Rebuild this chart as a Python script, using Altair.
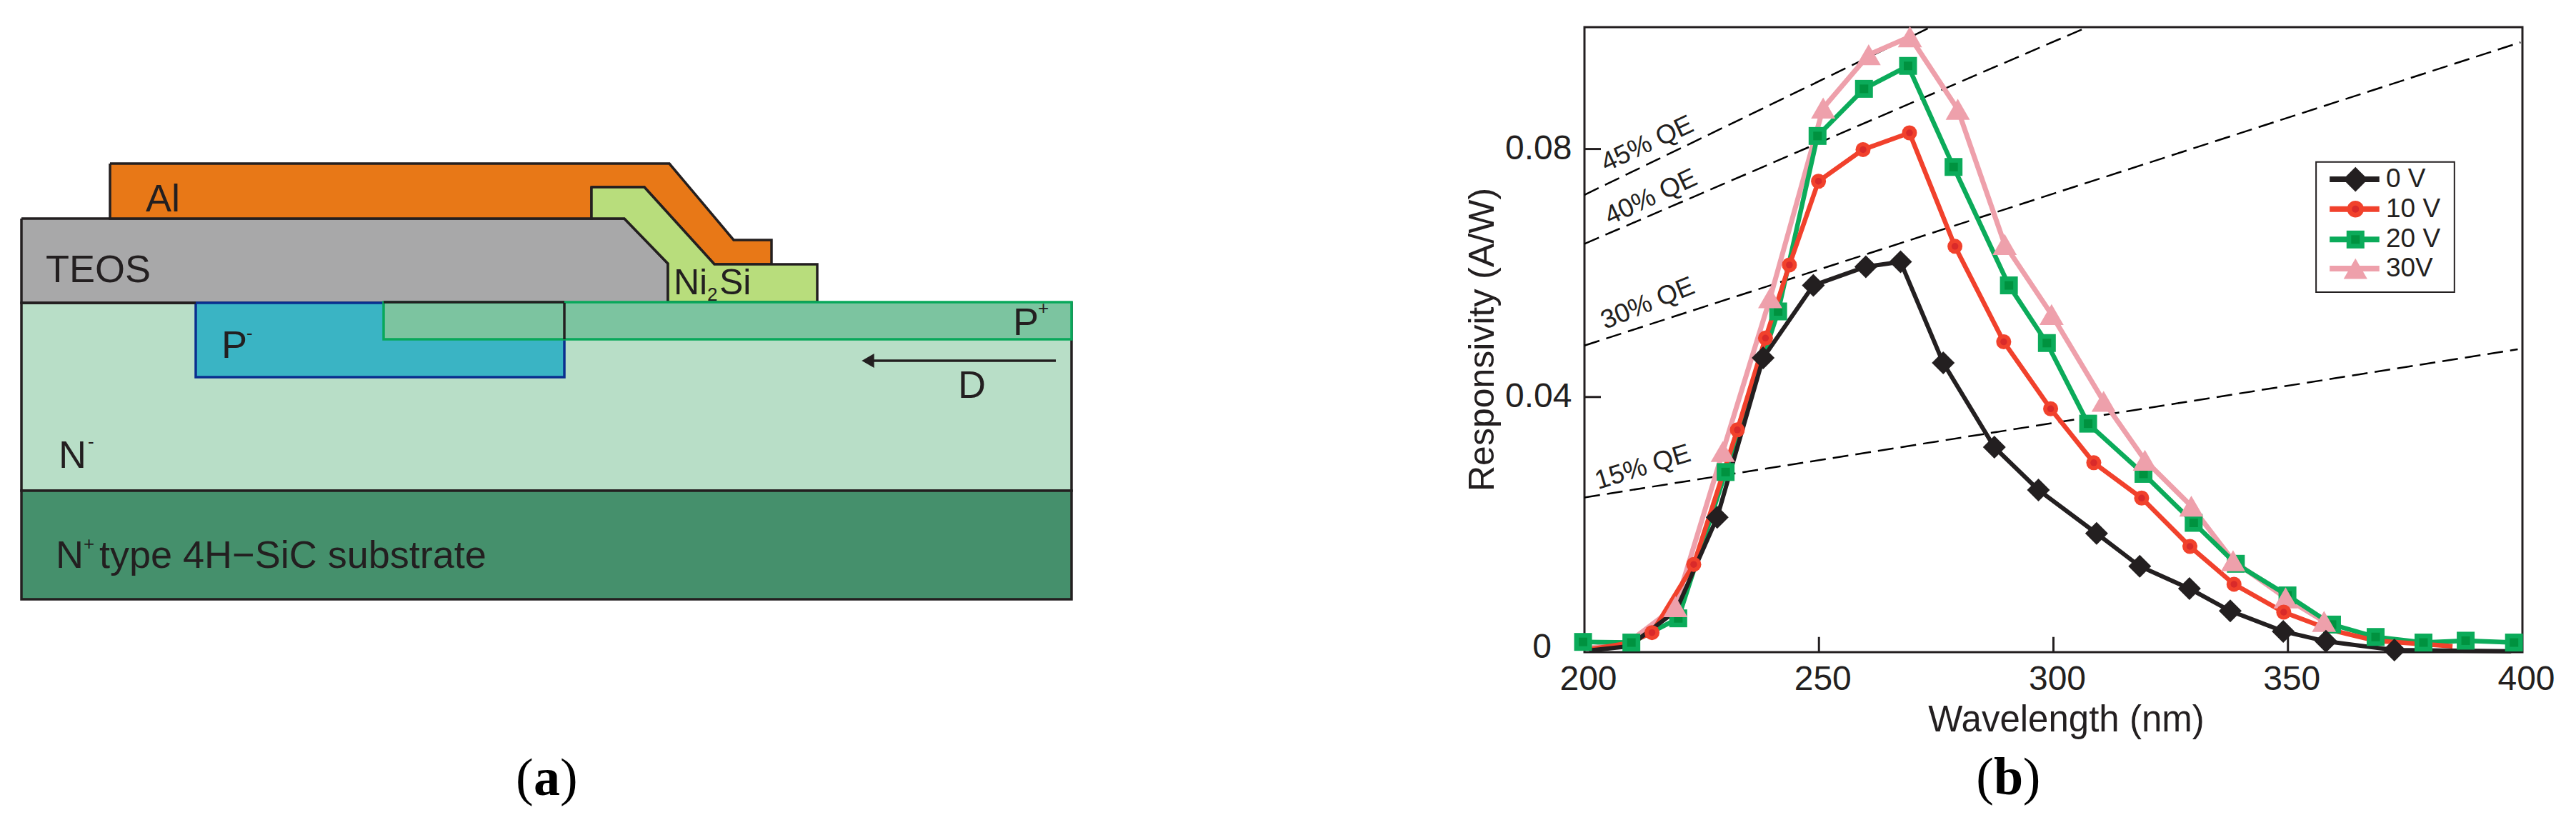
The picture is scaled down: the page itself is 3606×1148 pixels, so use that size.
import altair as alt
import pandas as pd

INK = '#231f20'
SANS = 'Liberation Sans'
SERIF = 'Liberation Serif'

# panel (a): device cross-section outlines, in diagram units
al_x = [154, 937, 1027, 1080, 1080, 1000, 902, 828, 828, 154, 154]
al_y = [229, 229, 336, 336, 370, 370, 262, 262, 306, 306, 229]
teos_x = [30, 874, 935, 935, 30, 30]
teos_y = [306, 306, 369, 424, 424, 306]
nisi_x = [828, 902, 1000, 1144, 1144, 935, 935, 874, 828, 828]
nisi_y = [262, 262, 370, 370, 423, 423, 369, 306, 306, 262]

layer_names = ['N-', 'N+', 'P-', 'P+']
layer_x1 = [30, 30, 274, 537]
layer_x2 = [1500, 1500, 790, 1500]
layer_y1 = [424, 687, 424, 423]
layer_y2 = [687, 839, 528, 475]
layer_fill = ['#b8dec7', '#45906c', '#3ab4c4', '#7cc4a0']
layer_stroke = [INK, INK, '#0a2f8f', '#09a85b']

label_text = ['Al', 'TEOS', 'Ni', '2', 'Si', 'P', '+', 'P', '-', 'D', 'N', '-', 'N', '+',
              'type 4H\u2212SiC substrate']
label_x = [204, 64, 943, 990, 1007, 1418, 1453, 310, 345, 1341, 82, 123, 78, 117, 139]
label_y = [296, 395, 412, 421, 412, 469, 440, 501, 475, 557, 655, 627, 795, 770, 795]
label_size = [54, 54, 50, 26, 50, 54, 26, 54, 26, 54, 54, 26, 54, 26, 54]

# panel (b): responsivity curves
w0 = [201, 209.5, 219.5, 228.3, 238.1, 248.8, 260, 267.4, 276.5, 287.4, 296.8, 309.2, 318.4, 329,
      337.7, 349, 358.1, 372.7, 397.6]
r0 = [-0.0009, -0.0002, 0.0055, 0.0206, 0.0463, 0.0580, 0.0610, 0.0618, 0.0455, 0.0319, 0.0250,
      0.0180, 0.0127, 0.0091, 0.0055, 0.0022, 0.0006, -0.0008, -0.0010]
w10 = [201, 209.3, 214.4, 223.3, 232.6, 238.6, 243.7, 249.9, 259.4, 269.3, 279, 289.4, 299.4, 308.6,
       318.8, 329.1, 338.5, 349.1, 359.3, 368.7, 385.1]
r10 = [-0.0007, 0.0003, 0.0020, 0.0130, 0.0347, 0.0495, 0.0613, 0.0748, 0.0799, 0.0826, 0.0643,
       0.0489, 0.0381, 0.0294, 0.0237, 0.0159, 0.0098, 0.0053, 0.0024, 0.0007, -0.0002]
w20 = [199.7, 210, 220, 230.1, 241.3, 249.7, 259.6, 269, 278.7, 290.5, 298.6, 307.4, 319.2, 329.9,
       338.9, 349.9, 359.4, 368.7, 378.9, 387.9, 398.2]
r20 = [0.0005, 0.0004, 0.0043, 0.0279, 0.0538, 0.0821, 0.0897, 0.0934, 0.0771, 0.0580, 0.0487,
       0.0357, 0.0276, 0.0197, 0.0131, 0.0080, 0.0033, 0.0013, 0.0004, 0.0007, 0.0004]
w30 = [201, 209.5, 219.4, 229.5, 239.6, 250.9, 260.6, 269.4, 279.6, 289.6, 299.6, 310.7, 319.5,
       329.4, 338.3, 349.5, 357.7]
r30 = [-0.0005, 0.0005, 0.0062, 0.0312, 0.0560, 0.0866, 0.0952, 0.0981, 0.0864, 0.0646, 0.0533,
       0.0393, 0.0298, 0.0224, 0.0136, 0.0076, 0.0038]

# quantum efficiency guide lines
qe_names = ['45% QE', '40% QE', '30% QE', '15% QE']
qe_w1 = [200, 200, 200, 200]
qe_r1 = [0.0726, 0.0647, 0.0483, 0.0238]
qe_w2 = [273.8, 307.2, 399.6, 399]
qe_r2 = [0.09965, 0.09965, 0.0972, 0.0477]
qe_label_w = [204.6, 205.4, 204.4, 202.9]
qe_label_r = [0.0763, 0.0677, 0.0509, 0.0251]
qe_label_angle = [335, 335, 338, 343]

legend_names = ['0 V', '10 V', '20 V', '30V']
legend_r = [0.0751, 0.0703, 0.0654, 0.0607]
legend_shapes = ['diamond', 'circle', 'square', 'triangle-up']
legend_sizes = [1200, 550, 625, 1100]
series_colors = [INK, '#f1412c', '#0bab5a', '#eea0ab']

# panel tags, one piece per font weight
tag_text = ['(', ')']
tag_a_x = [722, 784]
tag_a_bold_x = 747
tag_y = 1113
tag_b_w = [283.5, 293.5]
tag_b_bold_w = 287.3
tag_b_r = -0.0241

x_dia = alt.X('x:Q', scale=alt.Scale(domain=[8, 1568], nice=False), axis=None)
y_dia = alt.Y('y:Q', scale=alt.Scale(domain=[1138, 38], nice=False), axis=None)


def outline(xs, ys, fill):
    df = pd.DataFrame({'x': xs, 'y': ys, 'i': range(len(xs))})
    return alt.Chart(df).mark_line(fill=fill, stroke=INK, strokeWidth=3.5, strokeJoin='miter').encode(
        x=x_dia, y=y_dia, order='i:Q')


def edge(x1, x2, y1, y2, color):
    df = pd.DataFrame({'x': [x1], 'x2': [x2], 'y': [y1], 'y2': [y2]})
    return alt.Chart(df).mark_rule(color=color, strokeWidth=3.5).encode(x=x_dia, x2='x2:Q', y=y_dia, y2='y2:Q')


def tag_mark(df, x, y, weight):
    return alt.Chart(df).mark_text(font=SERIF, fontSize=74, fontWeight=weight, color='black', align='left',
                                   baseline='alphabetic').encode(x=x, y=y, text='t:N')


layers_df = pd.DataFrame({'name': layer_names, 'x': layer_x1, 'x2': layer_x2, 'y': layer_y1, 'y2': layer_y2,
                          'fill': layer_fill, 'stroke': layer_stroke})
rects = alt.Chart(layers_df).mark_rect(strokeWidth=3.5).encode(
    x=x_dia, x2='x2:Q', y=y_dia, y2='y2:Q',
    fill=alt.Fill('fill:N', scale=None), stroke=alt.Stroke('stroke:N', scale=None))
sub_rects = rects.transform_filter("datum.name == 'N-' || datum.name == 'N+'")
p_rects = rects.transform_filter("datum.name == 'P-' || datum.name == 'P+'")

labels_df = pd.DataFrame({'t': label_text, 'x': label_x, 'y': label_y, 's': label_size})
labels = alt.Chart(labels_df).mark_text(font=SANS, color=INK, align='left', baseline='alphabetic').encode(
    x=x_dia, y=y_dia, text='t:N', size=alt.Size('s:Q', scale=None, legend=None))

arrow_line = edge(1215, 1478, 505, 505, INK)
arrow_head = alt.Chart(pd.DataFrame({'x': [1215], 'y': [505]})).mark_point(
    shape='triangle-left', size=400, filled=True, color=INK, opacity=1).encode(x=x_dia, y=y_dia)

tag_a_paren = pd.DataFrame({'t': tag_text, 'x': tag_a_x, 'y': [tag_y, tag_y]})
tag_a_letter = pd.DataFrame({'t': ['a'], 'x': [tag_a_bold_x], 'y': [tag_y]})

left = alt.layer(
    sub_rects,
    outline(teos_x, teos_y, '#a8a8a9'),
    outline(al_x, al_y, '#e87817'),
    outline(nisi_x, nisi_y, '#b8dd7c'),
    p_rects,
    edge(537, 790, 423, 423, INK),
    edge(790, 790, 424, 475, INK),
    edge(30, 274, 424, 424, INK),
    arrow_line, arrow_head, labels,
    tag_mark(tag_a_paren, x_dia, y_dia, 'normal'),
    tag_mark(tag_a_letter, x_dia, y_dia, 'bold'),
).properties(width=1560, height=1100, view=alt.ViewConfig(stroke=None))

# panel b
x_b = alt.X('w:Q', scale=alt.Scale(domain=[200, 400], nice=False), title='Wavelength (nm)',
            axis=alt.Axis(values=[200, 250, 300, 350, 400], grid=False, domain=False, ticks=False,
                          labelFont=SANS, labelFontSize=48, labelColor=INK, labelPadding=14, labelOffset=5,
                          labelFlush=False, titleFont=SANS, titleFontSize=51, titleFontWeight='normal',
                          titleColor=INK, titleX=674, titleY=110, titleBaseline='alphabetic'))
y_b = alt.Y('r:Q', scale=alt.Scale(domain=[-0.00115, 0.09965], nice=False, zero=False), title='Responsivity  (A/W)',
            axis=alt.Axis(values=[0.04, 0.08], format='.2f', grid=False, domain=False, ticks=False,
                          labelFont=SANS, labelFontSize=48, labelColor=INK, labelPadding=18,
                          titleFont=SANS, titleFontSize=50, titleFontWeight='normal', titleColor=INK,
                          titleX=-128, titleY=437, titleAngle=270, titleBaseline='alphabetic'))
x_plain = alt.X('w:Q')
y_plain = alt.Y('r:Q')

zero_label = alt.Chart(pd.DataFrame({'w': [200], 'r': [0], 't': ['0']})).mark_text(
    font=SANS, fontSize=48, color=INK, align='right', baseline='middle', dx=-46, dy=4).encode(
    x=x_plain, y=y_plain, text='t:N')

qe_rows = [{'n': n, 'w': w, 'r': r} for n, a, b, c, d in zip(qe_names, qe_w1, qe_r1, qe_w2, qe_r2)
           for w, r in ((a, b), (c, d))]
qe_lines = alt.Chart(pd.DataFrame(qe_rows)).mark_line(color='black', strokeWidth=2.5, strokeDash=[22, 10]).encode(
    x=x_plain, y=y_plain, detail='n:N')
qe_labels = alt.layer(*[
    alt.Chart(pd.DataFrame({'w': [w], 'r': [r], 't': [n]})).mark_text(
        font=SANS, fontSize=37, color=INK, align='left', baseline='alphabetic', angle=a).encode(
        x=x_plain, y=y_plain, text='t:N')
    for n, w, r, a in zip(qe_names, qe_label_w, qe_label_r, qe_label_angle)
])


def curve_line(w, r, color, width):
    df = pd.DataFrame({'w': w, 'r': r})
    return alt.Chart(df).mark_line(color=color, strokeWidth=width, strokeJoin='miter').encode(x=x_plain, y=y_plain)


def curve_marks(w, r, shape, size, color, dot=None, dot_size=0):
    df = pd.DataFrame({'w': w, 'r': r})
    base = alt.Chart(df).mark_point(shape=shape, size=size, filled=True, color=color, opacity=1).encode(
        x=x_plain, y=y_plain)
    if dot is None:
        return base
    inner = alt.Chart(df).mark_point(shape=shape, size=dot_size, filled=True, color=dot, opacity=1).encode(
        x=x_plain, y=y_plain)
    return base + inner


# inward ticks drawn as short line segments
tick_parts = []
for w in [250, 300, 350]:
    tick_parts.append(curve_line([w, w], [-0.00115, 0.0013], INK, 3))
for r in [0.04, 0.08]:
    tick_parts.append(curve_line([200, 203.5], [r, r], INK, 3))

# legend box and rows, placed inside the plot
legend_box = alt.Chart(pd.DataFrame({'w': [356], 'w2': [385.5], 'r': [0.0779], 'r2': [0.0569]})).mark_rect(
    fill='white', stroke=INK, strokeWidth=2).encode(x=x_plain, x2='w2:Q', y=y_plain, y2='r2:Q')
legend_parts = [legend_box]
for name, r, shape, size, color in zip(legend_names, legend_r, legend_shapes, legend_sizes, series_colors):
    legend_parts.append(curve_line([358.9, 369.5], [r, r], color, 8))
    mark = pd.DataFrame({'w': [364.4], 'r': [r]})
    legend_parts.append(alt.Chart(mark).mark_point(shape=shape, size=size, filled=True, color=color, opacity=1).encode(
        x=x_plain, y=y_plain))
    if shape == 'circle':
        legend_parts.append(alt.Chart(mark).mark_point(shape='circle', size=100, filled=True, color='#d92a2a', opacity=1).encode(
            x=x_plain, y=y_plain))
    if shape == 'square':
        legend_parts.append(alt.Chart(mark).mark_point(shape='square', size=144, filled=True, color='#00923f', opacity=1).encode(
            x=x_plain, y=y_plain))
    text = pd.DataFrame({'w': [370.9], 'r': [r], 't': [name]})
    legend_parts.append(alt.Chart(text).mark_text(font=SANS, fontSize=37, color=INK, align='left', baseline='middle').encode(
        x=x_plain, y=y_plain, text='t:N'))

# an invisible layer carries the real axes
axes = alt.Chart(pd.DataFrame({'w': w0, 'r': r0})).mark_point(opacity=0).encode(x=x_b, y=y_b)

tag_b_paren = pd.DataFrame({'t': tag_text, 'w': tag_b_w, 'r': [tag_b_r, tag_b_r]})
tag_b_letter = pd.DataFrame({'t': ['b'], 'w': [tag_b_bold_w], 'r': [tag_b_r]})

right = alt.layer(
    axes, *tick_parts, zero_label, qe_lines, qe_labels,
    curve_line(w30, r30, series_colors[3], 7),
    curve_line(w20, r20, series_colors[2], 6.5),
    curve_line(w10, r10, series_colors[1], 6.5),
    curve_line(w0, r0, series_colors[0], 6),
    curve_marks(w20, r20, 'square', 625, series_colors[2], '#00923f', 144),
    curve_marks(w30[2:], r30[2:], 'triangle-up', 1150, series_colors[3]),
    curve_marks(w10[2:18], r10[2:18], 'circle', 441, series_colors[1], '#d92a2a', 90),
    curve_marks(w0[3:18], r0[3:18], 'diamond', 1024, series_colors[0]),
    *legend_parts,
    tag_mark(tag_b_paren, x_plain, y_plain, 'normal'),
    tag_mark(tag_b_letter, x_plain, y_plain, 'bold'),
).properties(width=1313, height=875, view=alt.ViewConfig(stroke=INK, strokeWidth=3))

chart = alt.hconcat(left, right, spacing=480).properties(
    padding={'left': 0, 'top': 23, 'right': 0, 'bottom': 0}, background='white'
).resolve_scale(x='independent', y='independent')

chart.save("out.html", embed_options={"renderer": "svg", "actions": False})
